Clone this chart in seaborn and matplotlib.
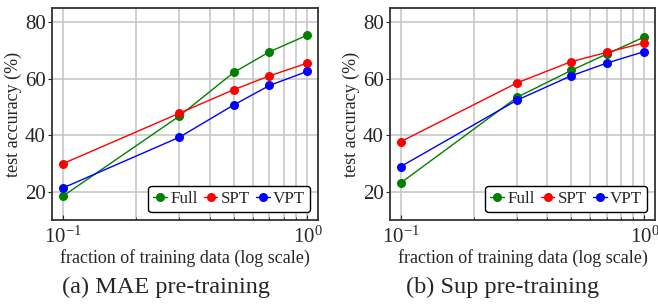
import numpy as np
import pandas as pd
import matplotlib
matplotlib.use("Agg")
import matplotlib.pyplot as plt
import seaborn as sns

fractions = [0.1, 0.3, 0.5, 0.7, 1.0]
methods = ["Full", "SPT", "VPT"]
colors = {"Full": "green", "SPT": "red", "VPT": "blue"}

mae_full = [18.4, 46.8, 62.2, 69.5, 75.4]
mae_spt = [29.9, 47.8, 56.1, 61.0, 65.5]
mae_vpt = [21.3, 39.3, 50.7, 57.6, 62.6]

sup_full = [23.1, 53.4, 62.9, 68.7, 74.8]
sup_spt = [37.7, 58.5, 66.0, 69.3, 72.7]
sup_vpt = [28.9, 52.4, 61.0, 65.5, 69.6]

yticks = [20, 40, 60, 80]
xlabel = "fraction of training data (log scale)"
ylabel = "test accuracy (%)"
captions = ["(a) MAE pre-training", "(b) Sup pre-training"]


def make_df(full, spt, vpt):
    rows = []
    for name, vals in zip(methods, [full, spt, vpt]):
        for f, v in zip(fractions, vals):
            rows.append({"fraction": f, "acc": v, "method": name})
    return pd.DataFrame(rows)


sns.set_style("white")
plt.rcParams["font.family"] = ["Liberation Serif", "DejaVu Serif"]
plt.rcParams["mathtext.fontset"] = "stix"

fig = plt.figure(figsize=(6.58, 3.05), dpi=100)
W, H = 658, 305
boxes = [(52, 8, 266, 212), (390, 8, 265, 212)]
cap_x = [166, 503]
dfs = [make_df(mae_full, mae_spt, mae_vpt), make_df(sup_full, sup_spt, sup_vpt)]

for (x0, y0, w, h), df, cap, cx in zip(boxes, dfs, captions, cap_x):
    ax = fig.add_axes([x0 / W, 1 - (y0 + h) / H, w / W, h / H])
    sns.lineplot(data=df, x="fraction", y="acc", hue="method", palette=colors,
                 marker="o", markersize=6.5, markeredgewidth=0, linewidth=1.0,
                 ax=ax, legend=True)
    ax.set_xscale("log")
    ax.set_xlim(0.0904, 1.105)
    ax.set_ylim(10, 85)
    ax.set_yticks(yticks)
    ax.grid(True, which="major", color="#c4c4c4", linewidth=1.1)
    ax.grid(True, which="minor", axis="x", color="#c4c4c4", linewidth=1.1)
    ax.set_axisbelow(True)
    ax.tick_params(axis="x", which="both", direction="in", labelsize=15,
                   length=3.5, bottom=True, pad=5)
    ax.tick_params(axis="x", which="minor", length=2.5)
    ax.tick_params(axis="y", which="major", direction="out", labelsize=15,
                   length=3, left=True, pad=1.5)
    ax.tick_params(axis="y", which="minor", left=False)
    for s in ax.spines.values():
        s.set_color("#333333")
        s.set_linewidth(1.3)
    ax.set_xlabel(xlabel, fontsize=13, labelpad=1)
    ax.set_ylabel(ylabel, fontsize=13, labelpad=2)
    leg = ax.legend(loc="lower right", ncol=3, fontsize=12.3, frameon=True,
                    handlelength=0.8, handletextpad=0.2, columnspacing=0.35,
                    borderpad=0.3, borderaxespad=0.45, fancybox=True)
    leg.get_frame().set_edgecolor("black")
    leg.get_frame().set_linewidth(1.0)
    leg.get_frame().set_alpha(1)
    fig.text(cx / W, 1 - 287 / H, cap, ha="center", va="center", fontsize=17.5)

fig.savefig("out.png", dpi=100)
